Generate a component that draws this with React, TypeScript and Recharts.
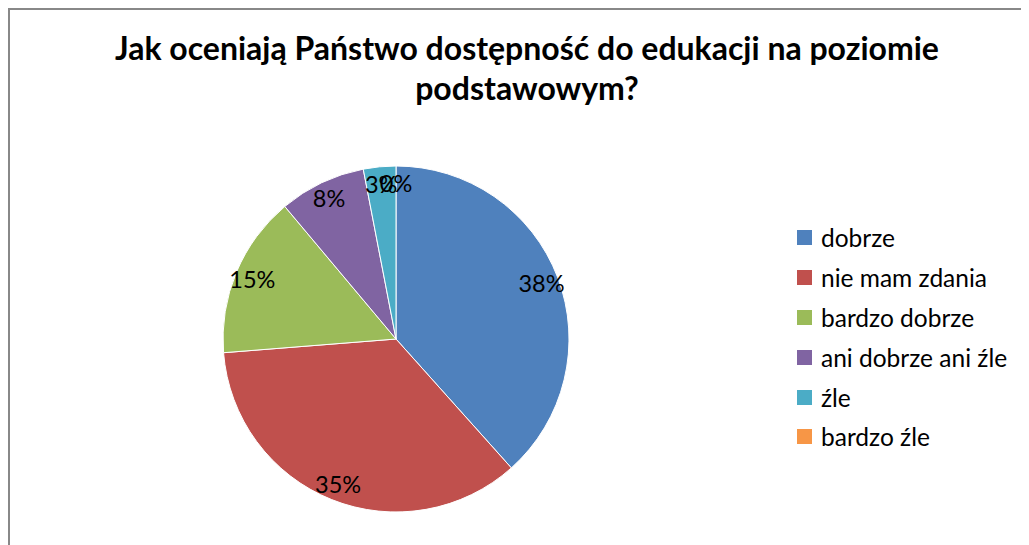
import React from "react";
import { PieChart, Pie, Cell, Legend } from "recharts";

const categories = ["dobrze", "nie mam zdania", "bardzo dobrze", "ani dobrze ani źle", "źle", "bardzo źle"];
const values = [38, 35, 15, 8, 3, 0];
const percentLabels = ["38%", "35%", "15%", "8%", "3%", "0%"];
const colors = ["#4F81BD", "#C0504D", "#9BBB59", "#8064A2", "#4BACC6", "#F79646"];
const titleLines = ["Jak oceniają Państwo dostępność do edukacji na poziomie", "podstawowym?"];

const data = categories.map((name, i) => ({ name, value: values[i], label: percentLabels[i] }));

const FONT = "Lato, 'Open Sans', sans-serif";
const RAD = Math.PI / 180;

const renderLabel = (props: any) => {
  const { cx, cy, midAngle, outerRadius, index } = props;
  const r = outerRadius * 0.9;
  const x = cx + r * Math.cos(-midAngle * RAD);
  const y = cy + r * Math.sin(-midAngle * RAD);
  return (
    <text x={x} y={y} textAnchor="middle" dominantBaseline="central" fill="#000" fontSize={23.5} fontFamily={FONT}>
      {percentLabels[index]}
    </text>
  );
};

const renderLegend = () => (
  <div style={{ fontFamily: FONT, fontSize: 24.5, color: "#000" }}>
    {categories.map((c, i) => (
      <div key={c} style={{ height: 39.8, display: "flex", alignItems: "center" }}>
        <span style={{ display: "inline-block", width: 15, height: 15, background: colors[i], marginRight: 9 }} />
        <span>{c}</span>
      </div>
    ))}
  </div>
);

export default function App() {
  return (
    <div
      style={{
        position: "relative",
        width: 1019,
        height: 535,
        borderTop: "2px solid #888",
        borderLeft: "2px solid #888",
        background: "#fff",
        overflow: "hidden",
      }}
    >
      <div
        style={{
          position: "absolute",
          left: 0,
          top: 18,
          width: 1034,
          textAlign: "center",
          fontFamily: FONT,
          fontWeight: 700,
          fontSize: 32,
          lineHeight: "40px",
          color: "#000",
        }}
      >
        {titleLines.map((t) => (
          <div key={t}>{t}</div>
        ))}
      </div>
      <PieChart width={1019} height={535} style={{ position: "absolute", left: 0, top: 0 }}>
        <Pie
          data={data}
          dataKey="value"
          nameKey="name"
          cx={381}
          cy={324}
          outerRadius={173}
          startAngle={90}
          endAngle={-270}
          stroke="#fff"
          strokeWidth={1}
          label={renderLabel}
          labelLine={false}
          isAnimationActive={false}
        >
          {data.map((d, i) => (
            <Cell key={d.name} fill={colors[i]} />
          ))}
        </Pie>
        <Legend
          content={renderLegend}
          wrapperStyle={{ position: "absolute", left: 787, top: 208, width: 230 }}
        />
      </PieChart>
    </div>
  );
}
